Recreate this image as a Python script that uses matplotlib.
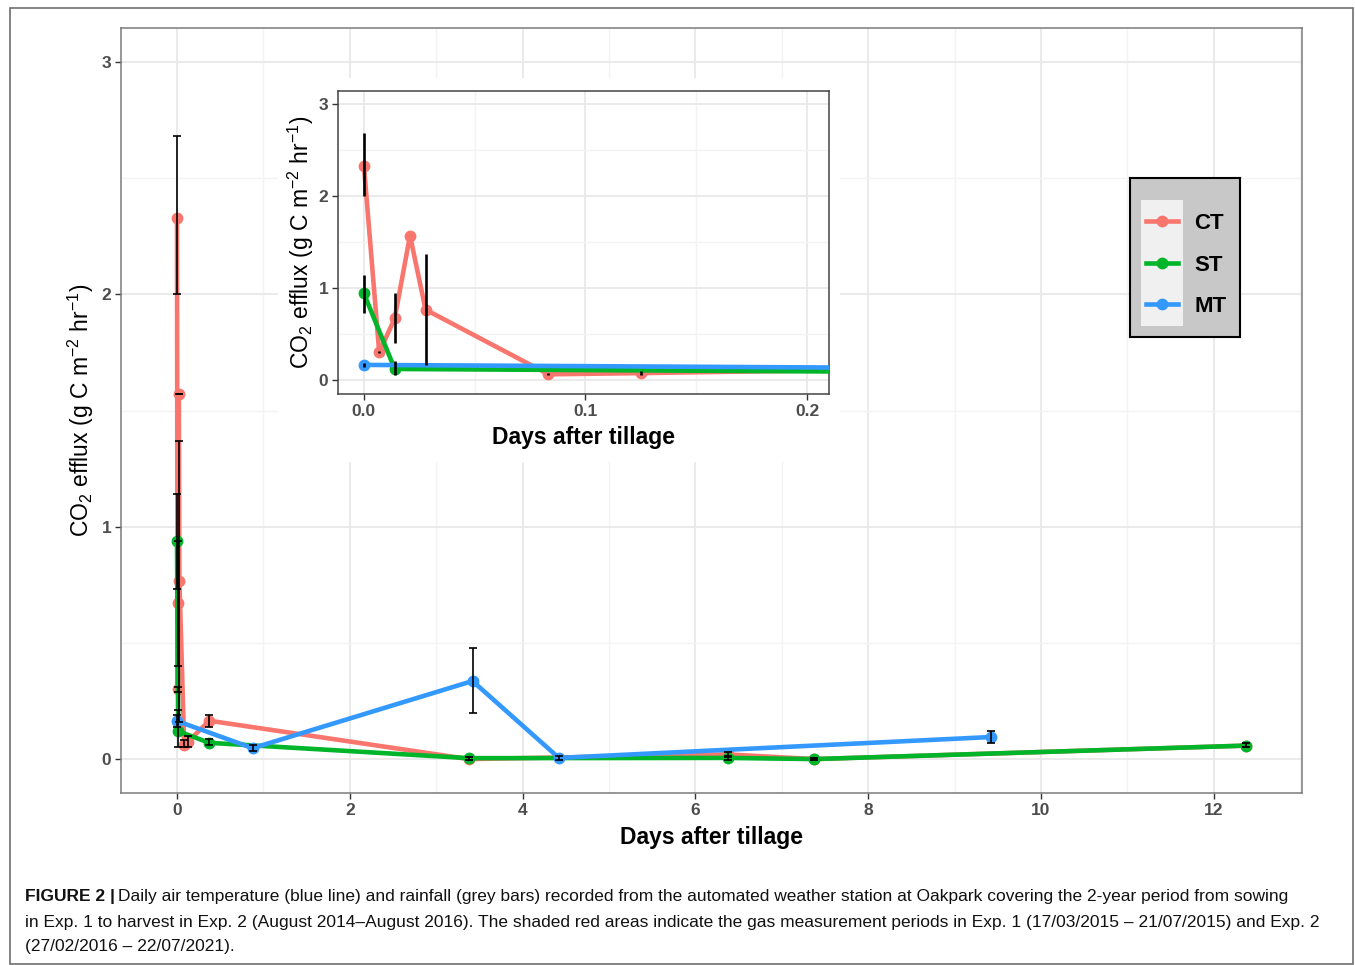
import matplotlib
matplotlib.use("Agg")
import matplotlib.pyplot as plt
from matplotlib.patches import Rectangle
from matplotlib.lines import Line2D
from matplotlib.ticker import MultipleLocator

plt.rcParams['font.family'] = ['Liberation Sans', 'DejaVu Sans']
plt.rcParams['mathtext.fontset'] = 'custom'
plt.rcParams['mathtext.rm'] = 'Liberation Sans'
plt.rcParams['mathtext.it'] = 'Liberation Sans:italic'
plt.rcParams['mathtext.bf'] = 'Liberation Sans:bold'

# ---------------- data ----------------
series_names = ["CT", "ST", "MT"]
series_colors = ["#F8766D", "#00B52A", "#3399FF"]

CT_x = [0, 0.0069, 0.0139, 0.0208, 0.0278, 0.0833, 0.125, 0.375, 3.375, 6.375, 7.375, 12.375]
CT_y = [2.33, 0.30, 0.67, 1.57, 0.765, 0.062, 0.075, 0.165, 0.0, 0.02, 0.0, 0.058]
CT_lo = [2.00, 0.29, 0.40, 1.57, 0.16, 0.05, 0.05, 0.14, -0.005, 0.01, -0.005, 0.05]
CT_hi = [2.68, 0.31, 0.94, 1.57, 1.37, 0.08, 0.10, 0.19, 0.008, 0.03, 0.005, 0.068]

ST_x = [0, 0.0139, 0.375, 3.375, 6.375, 7.375, 12.375]
ST_y = [0.94, 0.12, 0.07, 0.004, 0.005, 0.0, 0.058]
ST_lo = [0.73, 0.05, 0.06, -0.004, -0.003, -0.005, 0.05]
ST_hi = [1.14, 0.21, 0.085, 0.01, 0.013, 0.005, 0.068]

MT_x = [0, 0.875, 3.42, 4.42, 9.42]
MT_y = [0.164, 0.047, 0.336, 0.005, 0.095]
MT_lo = [0.14, 0.035, 0.20, -0.002, 0.07]
MT_hi = [0.19, 0.06, 0.48, 0.012, 0.12]

xs = [CT_x, ST_x, MT_x]
ys = [CT_y, ST_y, MT_y]
los = [CT_lo, ST_lo, MT_lo]
his = [CT_hi, ST_hi, MT_hi]

main_xticks = [0, 2, 4, 6, 8, 10, 12]
main_yticks = [0, 1, 2, 3]
inset_xticks = [0.0, 0.1, 0.2]
inset_xticklabels = ["0.0", "0.1", "0.2"]

ylabel = r'CO$_2$ efflux (g C m$^{-2}$ hr$^{-1}$)'
xlabel = "Days after tillage"

W, H = 1355, 965
fig = plt.figure(figsize=(W / 100, H / 100), dpi=100)

def fx(px):
    return px / W

def fy(py):
    return 1 - py / H

# outer frame
fig.add_artist(Rectangle((fx(10), fy(964)), fx(1353) - fx(10), fy(8) - fy(964),
                         transform=fig.transFigure, fill=False, edgecolor="#6e6e6e", lw=1.2))

GRID_MAJ = "#E8E8E8"
GRID_MIN = "#F3F3F3"
TICK_COL = "#4D4D4D"

LW = 3.3
MS = 7.5


def style_axes(ax, border="#7a7a7a"):
    ax.set_facecolor("white")
    for s in ax.spines.values():
        s.set_color(border)
        s.set_linewidth(1.1)
    ax.grid(which="major", color=GRID_MAJ, lw=1.3, zorder=0)
    ax.grid(which="minor", color=GRID_MIN, lw=1.0, zorder=0)
    ax.set_axisbelow(True)
    ax.tick_params(which="major", direction="out", length=4, width=1, color="#333333",
                   labelcolor=TICK_COL, labelsize=12.5, pad=3)
    ax.tick_params(which="minor", length=0)
    for lab in ax.get_xticklabels() + ax.get_yticklabels():
        lab.set_fontweight("bold")


def draw_series(ax, lw, ms, elw, capsize):
    for x, y, c in zip(xs, ys, series_colors):
        ax.plot(x, y, color=c, lw=lw, marker="o", ms=ms, zorder=3, solid_capstyle="butt")
    for x, y, lo, hi in zip(xs, ys, los, his):
        yerr = [[yy - l for yy, l in zip(y, lo)], [h - yy for yy, h in zip(y, hi)]]
        ax.errorbar(x, y, yerr=yerr, fmt="none", ecolor="black", elinewidth=elw,
                    capsize=capsize, capthick=elw, zorder=4)


# ---------------- main axes ----------------
ax = fig.add_axes([fx(121), fy(793), fx(1302) - fx(121), fy(28) - fy(793)])
draw_series(ax, lw=LW, ms=MS, elw=1.2, capsize=2.8)
ax.set_xlim(-0.648, 13.02)
ax.set_ylim(-0.146, 3.147)
ax.set_xticks(main_xticks)
ax.set_yticks(main_yticks)
ax.xaxis.set_minor_locator(MultipleLocator(1))
ax.yaxis.set_minor_locator(MultipleLocator(0.5))
style_axes(ax)
ax.set_xlabel(xlabel, fontsize=16.5, fontweight="bold", labelpad=6)
ax.set_ylabel(ylabel, fontsize=16.5, labelpad=4)

# white background behind inset
bg = fig.add_axes([fx(278), fy(462), fx(840) - fx(278), fy(78) - fy(462)])
bg.set_facecolor("white")
bg.set_xticks([]); bg.set_yticks([])
for s in bg.spines.values():
    s.set_visible(False)

# ---------------- inset axes ----------------
ax2 = fig.add_axes([fx(338), fy(394), fx(829) - fx(338), fy(91) - fy(394)])
draw_series(ax2, lw=LW, ms=MS, elw=1.9, capsize=0)
ax2.set_xlim(-0.0117, 0.2099)
ax2.set_ylim(-0.152, 3.14)
ax2.set_xticks(inset_xticks)
ax2.set_xticklabels(inset_xticklabels)
ax2.set_yticks(main_yticks)
ax2.xaxis.set_minor_locator(MultipleLocator(0.05))
ax2.yaxis.set_minor_locator(MultipleLocator(0.5))
style_axes(ax2, border="#444444")
ax2.set_xlabel(xlabel, fontsize=16.5, fontweight="bold", labelpad=5)
ax2.set_ylabel(ylabel, fontsize=16.5, labelpad=2)

# ---------------- legend ----------------
lg = fig.add_axes([fx(1130), fy(337), fx(1240) - fx(1130), fy(178) - fy(337)])
lg.set_facecolor("#C8C8C8")
lg.set_xlim(0, 1); lg.set_ylim(0, 1)
lg.set_xticks([]); lg.set_yticks([])
for s in lg.spines.values():
    s.set_color("black")
    s.set_linewidth(1.5)
lg.add_patch(Rectangle((0.1, 0.069), 0.382, 0.793, facecolor="#F0F0F0", edgecolor="none"))
handles = [Line2D([], [], color=c, lw=LW, marker="o", ms=MS) for c in series_colors]
leg = lg.legend(handles, series_names, loc="center left", bbox_to_anchor=(0.145, 0.452),
                frameon=False, borderpad=0, borderaxespad=0, handlelength=1.45,
                handletextpad=0.72, labelspacing=0.92,
                prop={"weight": "bold", "size": 16})

# ---------------- caption ----------------
fig.canvas.draw()
r = fig.canvas.get_renderer()
cap_size = 12.5
t0 = fig.text(fx(25), fy(897), "FIGURE 2 |", fontsize=cap_size, fontweight="bold",
              va="center", ha="left", color="#111111")
bb = t0.get_window_extent(renderer=r)
fig.text(bb.x1 / W + 0.002, fy(897),
         "Daily air temperature (blue line) and rainfall (grey bars) recorded from the automated weather station at Oakpark covering the 2-year period from sowing",
         fontsize=cap_size, va="center", ha="left", color="#111111")
fig.text(fx(25), fy(922),
         "in Exp. 1 to harvest in Exp. 2 (August 2014\u2013August 2016). The shaded red areas indicate the gas measurement periods in Exp. 1 (17/03/2015 \u2013 21/07/2015) and Exp. 2",
         fontsize=cap_size, va="center", ha="left", color="#111111")
fig.text(fx(25), fy(947), "(27/02/2016 \u2013 22/07/2021).",
         fontsize=cap_size, va="center", ha="left", color="#111111")

fig.savefig("out.png", dpi=100)
